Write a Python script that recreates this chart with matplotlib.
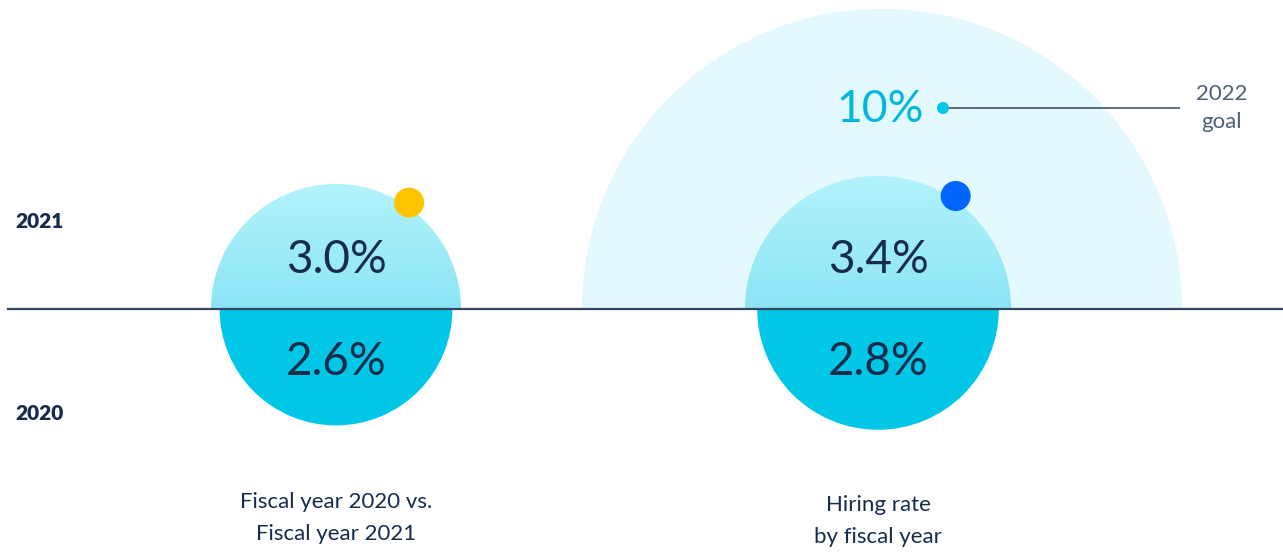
"""
Hiring rate circles: fiscal year 2021 over 2020, with the 2022 goal.
"""

import numpy as np
import matplotlib.pyplot as plt
from matplotlib.patches import Wedge, Circle

# ── Data ──────────────────────────────────────────────────────────────────────
group_labels = ["Fiscal year 2020 vs.\nFiscal year 2021", "Hiring rate\nby fiscal year"]
rate_2021 = [3.0, 3.4]
rate_2020 = [2.6, 2.8]
goal_2022 = 10.0
dot_colors = ["#ffc400", "#0065ff"]

# ── Layout (pixel space) ──────────────────────────────────────────────────────
W, H = 1283, 554
BASE_Y = 309
group_x = [336, 878]
label_y = [518, 521]
R_SCALE = 72.2       # px per sqrt(percent)
GOAL_SCALE = 94.9    # goal half-disc drawn on its own scale

NAVY = "#172b4d"
LINE = "#344563"
TOP_LIGHT = np.array([0.70, 0.95, 0.99])
TOP_DARK = np.array([0.55, 0.90, 0.96])
LOWER = "#00c7e6"

fig = plt.figure(figsize=(W / 100, H / 100), dpi=100)
ax = fig.add_axes([0, 0, 1, 1])
ax.set_xlim(0, W)
ax.set_ylim(H, 0)
ax.axis("off")

# gradient image used for the upper half discs
grad = np.linspace(0, 1, 256)[:, None, None]
grad_img = TOP_LIGHT + (TOP_DARK - TOP_LIGHT) * grad
grad_img = np.repeat(grad_img, 2, axis=1)

# goal half disc
r_goal = GOAL_SCALE * np.sqrt(goal_2022)
goal_cx = group_x[1] + 4
ax.add_patch(Wedge((goal_cx, BASE_Y), r_goal, 180, 360, facecolor="#e3f9fd",
                   edgecolor="none", zorder=1))

for x, up, low, dc, lab, ly in zip(group_x, rate_2021, rate_2020, dot_colors,
                                   group_labels, label_y):
    r_up = R_SCALE * np.sqrt(up)
    r_low = R_SCALE * np.sqrt(low)

    # upper half (2021) with vertical gradient
    w_up = Wedge((x, BASE_Y), r_up, 180, 360, facecolor="none", edgecolor="none")
    ax.add_patch(w_up)
    im = ax.imshow(grad_img, extent=(x - r_up, x + r_up, BASE_Y, BASE_Y - r_up),
                   aspect="auto", zorder=2, interpolation="bilinear")
    im.set_clip_path(w_up)

    # lower half (2020)
    ax.add_patch(Wedge((x, BASE_Y), r_low, 0, 180, facecolor=LOWER,
                       edgecolor="none", zorder=2))

    # marker dot on the upper rim
    ang = np.deg2rad(55.5)
    ax.add_patch(Circle((x + (r_up + 4) * np.cos(ang), BASE_Y - (r_up + 4) * np.sin(ang)),
                        15, facecolor=dc, edgecolor="none", zorder=4))

    ax.text(x, BASE_Y - 49, f"{up:.1f}%", ha="center", va="center", fontsize=33,
            color=NAVY, family="Lato", zorder=5)
    ax.text(x, BASE_Y + 53, f"{low:.1f}%", ha="center", va="center", fontsize=33,
            color=NAVY, family="Lato", zorder=5)
    ax.text(x, ly, lab, ha="center", va="center", fontsize=16, color=NAVY,
            family="Lato", linespacing=1.8)

# baseline
ax.plot([8, W], [BASE_Y, BASE_Y], color=LINE, linewidth=1.6, zorder=3)

# year labels
ax.text(15, 221, "2021", ha="left", va="center", fontsize=15, color=NAVY,
        family="Lato", weight="heavy")
ax.text(15, 414, "2020", ha="left", va="center", fontsize=15, color=NAVY,
        family="Lato", weight="heavy")

# goal annotation
ax.text(goal_cx - 2, 110, f"{goal_2022:.0f}%", ha="center", va="center", fontsize=32,
        color="#00b8d9", family="Lato", zorder=5)
ax.add_patch(Circle((943, 108), 6, facecolor="#00c7e6", edgecolor="none", zorder=5))
ax.plot([948, 1179], [108, 108], color="#505f79", linewidth=1.3, zorder=4)
ax.text(1222, 108, "2022\ngoal", ha="center", va="center", fontsize=16,
        color="#505f79", family="Lato", linespacing=1.55)

plt.savefig("out.png", dpi=100)
